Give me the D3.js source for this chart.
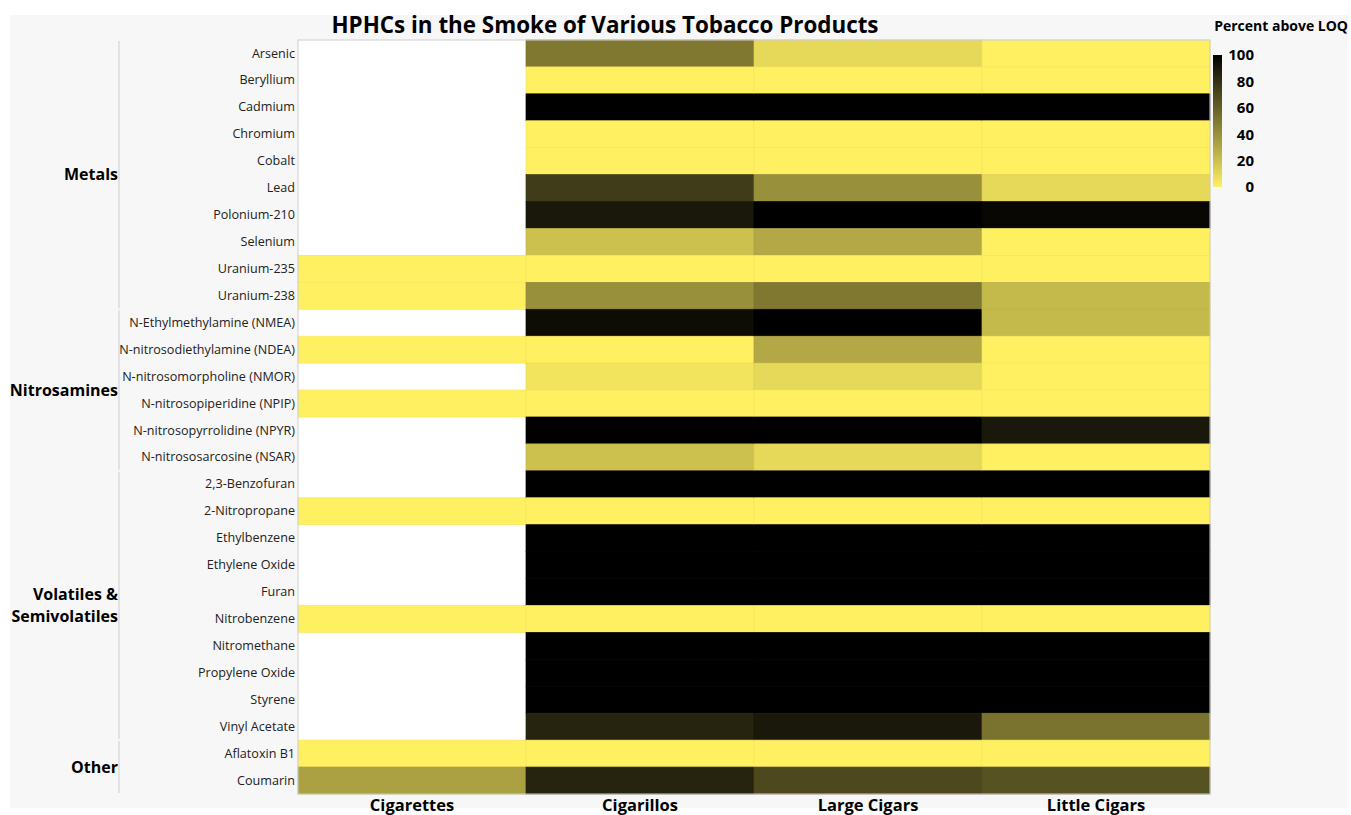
<!DOCTYPE html>
<html>
<head>
<meta charset="utf-8">
<script src="https://cdn.jsdelivr.net/npm/d3@7"></script>
<style>
  body { margin: 0; background: #fff; }
  text { font-family: "Open Sans", "Noto Sans", sans-serif; }
</style>
</head>
<body>
<script>
const width = 1351
const height = 815
const margin = ({top: 40, right: 141, bottom: 21, left: 298})

const products = ["Cigarettes", "Cigarillos", "Large Cigars", "Little Cigars"]
const groups = ["Metals", "Nitrosamines", "Volatiles & Semivolatiles", "Other"]
const compounds = [
  "Arsenic", "Beryllium", "Cadmium", "Chromium", "Cobalt", "Lead", "Polonium-210", "Selenium", "Uranium-235", "Uranium-238",
  "N-Ethylmethylamine (NMEA)", "N-nitrosodiethylamine (NDEA)", "N-nitrosomorpholine (NMOR)", "N-nitrosopiperidine (NPIP)", "N-nitrosopyrrolidine (NPYR)", "N-nitrososarcosine (NSAR)",
  "2,3-Benzofuran", "2-Nitropropane", "Ethylbenzene", "Ethylene Oxide", "Furan", "Nitrobenzene", "Nitromethane", "Propylene Oxide", "Styrene", "Vinyl Acetate",
  "Aflatoxin B1", "Coumarin"
]
const groupOf = [
  0, 0, 0, 0, 0, 0, 0, 0, 0, 0,
  1, 1, 1, 1, 1, 1,
  2, 2, 2, 2, 2, 2, 2, 2, 2, 2,
  3, 3
]
// percent above LOQ, null = not tested
const cigarettes   = [null, null, null, null, null, null, null, null, 0, 0,   null, 0, null, 0, null, null,   null, 0, null, null, null, 0, null, null, null, null,   0, 33]
const cigarillos   = [50, 0, 100, 0, 0, 75, 90, 20, 0, 40,   95, 0, 5, 0, 100, 20,   100, 0, 100, 100, 100, 0, 100, 100, 100, 85,   0, 85]
const largeCigars  = [10, 0, 100, 0, 0, 40, 100, 30, 0, 50,   100, 30, 10, 0, 100, 10,   100, 0, 100, 100, 100, 0, 100, 100, 100, 90,   0, 70]
const littleCigars = [0, 0, 100, 0, 0, 10, 97, 0, 0, 23,   23, 0, 0, 0, 90, 0,   100, 0, 100, 100, 100, 0, 100, 100, 100, 52,   0, 66]
const legendTicks = [0, 20, 40, 60, 80, 100]

const series = [cigarettes, cigarillos, largeCigars, littleCigars]
const cells = []
series.forEach((vals, j) => vals.forEach((v, i) => cells.push({product: products[j], compound: compounds[i], value: v})))

const svg = d3.select("body").append("svg")
    .attr("width", width)
    .attr("height", height)

// panel background
svg.append("rect")
    .attr("x", 10).attr("y", 15)
    .attr("width", 1338).attr("height", 793)
    .attr("fill", "#f7f7f7")

const x = d3.scaleBand()
    .domain(products)
    .range([margin.left, width - margin.right])

const y = d3.scaleBand()
    .domain(compounds)
    .range([margin.top, height - margin.bottom])

const color = d3.scaleLinear()
    .domain([0, 100])
    .range(["#fff062", "#000000"])
    .interpolate(d3.interpolateRgb)

// plot background
svg.append("rect")
    .attr("x", margin.left).attr("y", margin.top)
    .attr("width", x.range()[1] - margin.left)
    .attr("height", y.range()[1] - margin.top)
    .attr("fill", "#fff")

svg.append("g")
    .selectAll("rect")
    .data(cells.filter(d => d.value != null))
    .join("rect")
        .attr("x", d => x(d.product))
        .attr("y", d => y(d.compound))
        .attr("width", x.bandwidth())
        .attr("height", y.bandwidth())
        .attr("fill", d => color(d.value))
        .attr("stroke", d => d3.color(color(d.value)).darker(0.12))
        .attr("stroke-width", 0.7)

svg.append("rect")
    .attr("x", margin.left).attr("y", margin.top)
    .attr("width", x.range()[1] - margin.left)
    .attr("height", y.range()[1] - margin.top)
    .attr("fill", "none")
    .attr("stroke", "#cfcfcf")

// row labels
svg.append("g")
    .attr("transform", `translate(${margin.left - 3},0)`)
    .call(d3.axisLeft(y).tickSize(0).tickPadding(0))
    .call(g => g.select(".domain").remove())
    .call(g => g.selectAll("text")
        .attr("font-size", 12.6)
        .attr("fill", "#222")
        .attr("font-family", "'Open Sans', sans-serif"))

// column labels
svg.append("g")
    .attr("transform", `translate(0,${height - margin.bottom})`)
    .call(d3.axisBottom(x).tickSize(0).tickPadding(5))
    .call(g => g.select(".domain").remove())
    .call(g => g.selectAll("text")
        .attr("font-size", 16.5)
        .attr("font-weight", "bold")
        .attr("fill", "#000")
        .attr("font-family", "'Open Sans', sans-serif"))

// group labels and separator line
const groupSpans = groups.map((name, k) => {
  const rows = compounds.filter((c, i) => groupOf[i] === k)
  return {name, y0: y(rows[0]), y1: y(rows[rows.length - 1]) + y.bandwidth()}
})

svg.append("g")
    .selectAll("line")
    .data(groupSpans)
    .join("line")
        .attr("x1", 119).attr("x2", 119)
        .attr("y1", d => d.y0 + 1)
        .attr("y2", d => d.y1 - 1)
        .attr("stroke", "#d4d4d4")
        .attr("stroke-width", 1.2)

const groupText = svg.append("g")
    .selectAll("text")
    .data(groupSpans)
    .join("text")
        .attr("x", 118)
        .attr("y", d => (d.y0 + d.y1) / 2)
        .attr("text-anchor", "end")
        .attr("font-size", 16)
        .attr("font-weight", "bold")
        .attr("fill", "#000")

groupText.each(function(d) {
  const words = d.name === "Volatiles & Semivolatiles" ? ["Volatiles &", "Semivolatiles"] : [d.name]
  const t = d3.select(this)
  words.forEach((w, i) => {
    t.append("tspan")
        .attr("x", 118)
        .attr("dy", i === 0 ? `${0.35 - (words.length - 1) * 0.7}em` : "1.4em")
        .text(w)
  })
})

// title
svg.append("text")
    .attr("x", 605)
    .attr("y", 33)
    .attr("text-anchor", "middle")
    .attr("font-size", 22.4)
    .attr("font-weight", "bold")
    .attr("fill", "#000")
    .text("HPHCs in the Smoke of Various Tobacco Products")

// legend
const defs = svg.append("defs")
const grad = defs.append("linearGradient")
    .attr("id", "loq")
    .attr("x1", 0).attr("y1", 1).attr("x2", 0).attr("y2", 0)
grad.selectAll("stop")
    .data(legendTicks)
    .join("stop")
        .attr("offset", d => d / 100)
        .attr("stop-color", d => color(d))

const ly = d3.scaleLinear()
    .domain([0, 100])
    .range([187, 55])

svg.append("rect")
    .attr("x", 1213).attr("y", ly(100))
    .attr("width", 9).attr("height", ly(0) - ly(100))
    .attr("fill", "url(#loq)")

svg.append("g")
    .attr("transform", "translate(1254,0)")
    .call(d3.axisLeft(ly).tickValues(legendTicks).tickSize(0).tickPadding(0))
    .call(g => g.select(".domain").remove())
    .call(g => g.selectAll("text")
        .attr("font-size", 15)
        .attr("font-weight", "bold")
        .attr("fill", "#000")
        .attr("font-family", "'Open Sans', sans-serif"))

svg.append("text")
    .attr("x", 1348)
    .attr("y", 31)
    .attr("text-anchor", "end")
    .attr("font-size", 14)
    .attr("font-weight", "bold")
    .attr("fill", "#000")
    .text("Percent above LOQ")
</script>
</body>
</html>
